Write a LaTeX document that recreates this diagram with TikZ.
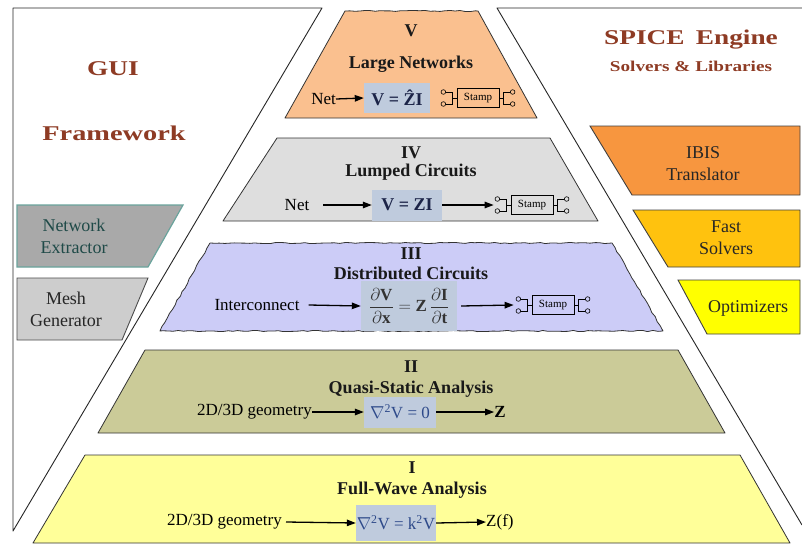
\documentclass[tikz,border=0pt]{standalone}
\usepackage{fontspec}
\usepackage{amsmath}
\usepackage{graphicx}
\setmainfont{Liberation Serif}
\usetikzlibrary{arrows.meta,decorations.pathmorphing,calc}

\definecolor{titlebrown}{HTML}{8E3B24}
\definecolor{lvV}{HTML}{FAC08F}
\definecolor{lvIV}{HTML}{DEDEDE}
\definecolor{lvIII}{HTML}{CCCCF7}
\definecolor{lvII}{HTML}{CBCB98}
\definecolor{lvI}{HTML}{FFFF99}
\definecolor{eqbox}{HTML}{BFCBDD}
\definecolor{eqdark}{HTML}{1C2448}
\definecolor{eqblue}{HTML}{2E4A8A}
\definecolor{netfill}{HTML}{A9A9A9}
\definecolor{netedge}{HTML}{6AA39C}
\definecolor{nettext}{HTML}{1F4A48}
\definecolor{meshfill}{HTML}{CDCDCD}
\definecolor{ibis}{HTML}{F7963F}
\definecolor{fast}{HTML}{FFC20E}
\definecolor{optim}{HTML}{FFFF00}

% leads and terminals on both sides of a stamp box
\newcommand\stampleads[1]{%
  \draw[lead] (#1.west) -- ++(-4,0);
  \draw[lead] ($(#1.west)+(-4,-6)$) -- ($(#1.west)+(-4,6)$);
  \draw[lead] ($(#1.west)+(-4,-6)$) -- ($(#1.west)+(-11,-6)$);
  \draw[lead] ($(#1.west)+(-4,6)$) -- ($(#1.west)+(-11,6)$);
  \draw[lead] ($(#1.west)+(-13.3,-6)$) circle[radius=2.3pt];
  \draw[lead] ($(#1.west)+(-13.3,6)$) circle[radius=2.3pt];
  \draw[lead] (#1.east) -- ++(4,0);
  \draw[lead] ($(#1.east)+(4,-6)$) -- ($(#1.east)+(4,6)$);
  \draw[lead] ($(#1.east)+(4,-6)$) -- ($(#1.east)+(11,-6)$);
  \draw[lead] ($(#1.east)+(4,6)$) -- ($(#1.east)+(11,6)$);
  \draw[lead] ($(#1.east)+(13.3,-6)$) circle[radius=2.3pt];
  \draw[lead] ($(#1.east)+(13.3,6)$) circle[radius=2.3pt];
}

\begin{document}
\pgfmathsetseed{7}
\begin{tikzpicture}[x=1pt,y=-1pt,
  frame/.style={draw=black!85, line width=0.9pt, line join=round},
  level/.style={draw=black!80, line width=0.8pt, line join=round},
  wobble/.style={decorate, decoration={random steps, segment length=5pt, amplitude=0.6pt}},
  lvtitle/.style={font=\fontsize{18}{20}\selectfont\bfseries, text=black!90, inner sep=0pt},
  rowtext/.style={font=\fontsize{17}{19}\selectfont, inner sep=0pt},
  eqstrong/.style={fill=eqbox, text=eqdark, font=\fontsize{18}{20}\selectfont\bfseries, inner sep=0pt},
  eqsoft/.style={fill=eqbox, text=eqblue, font=\fontsize{17}{19}\selectfont, inner sep=0pt},
  arr/.style={-{Triangle[length=9pt,width=6.5pt]}, line width=1.3pt},
  lead/.style={line width=0.6pt},
  stampbox/.style={draw, line width=0.7pt, font=\fontsize{11}{12}\selectfont, minimum width=42pt, minimum height=19pt, inner sep=1pt},
  boxtext/.style={font=\fontsize{18}{22}\selectfont, align=center, inner sep=0pt},
  maintitle/.style={font=\fontsize{21}{24}\selectfont\bfseries, text=titlebrown, inner sep=0pt},
  subtitle/.style={font=\fontsize{15}{17}\selectfont\bfseries, text=titlebrown, inner sep=0pt}
]
\useasboundingbox (0,0) rectangle (802,543);
\fill[white] (0,0) rectangle (802,543);

% outer panels
\draw[frame] (322,8) -- (13,8) -- (13,531) -- cycle;
\draw[frame] (802,8) -- (497,8) -- (802,525);

% side titles
\node[maintitle] (gui) at (113,69) {\scalebox{1.3}[1]{GUI}};
\node[maintitle] (fw) at (114,133) {\scalebox{1.35}[1]{Framework}};
\node[maintitle] (spice) at (691,40) {\scalebox{1.3}[1]{SPICE\, Engine}};
\node[subtitle] (libs) at (691,66) {\scalebox{1.28}[1]{Solvers \& Libraries}};

% left tool boxes
\filldraw[draw=netedge, line width=1.2pt, fill=netfill] (17,205) -- (183,205) -- (148,267) -- (17,267) -- cycle;
\node[boxtext, text=nettext] (netx) at (74,236) {Network\\Extractor};
\filldraw[draw=black!70, line width=0.9pt, fill=meshfill] (17,278) -- (148,278) -- (122,340) -- (17,340) -- cycle;
\node[boxtext, text=black!85] (mesh) at (66,309) {Mesh\\Generator};

% right tool boxes
\filldraw[draw=black!75, line width=0.9pt, fill=ibis] (590,126) -- (800,126) -- (800,195) -- (632,195) -- cycle;
\node[boxtext, text=black!85] (ibisx) at (703,164) {IBIS\\Translator};
\filldraw[draw=black!75, line width=0.9pt, fill=fast] (633,210) -- (800,210) -- (800,267) -- (668,267) -- cycle;
\node[boxtext, text=black!85] (fastx) at (726,238) {Fast\\Solvers};
\filldraw[draw=black!75, line width=0.9pt, fill=optim] (678,280) -- (800,280) -- (800,334) -- (707,334) -- cycle;
\node[boxtext, text=black!85] (optx) at (748,308) {Optimizers};

% level V
\filldraw[level, fill=lvV] (285,118) -- (345,11) decorate[wobble]{-- (478,11)} -- (537,118) -- cycle;
\node[lvtitle] (t5) at (411,31) {V};
\node[lvtitle] (n5) at (411,64) {Large Networks};
\node[eqstrong, minimum width=66pt, minimum height=30pt] (f5) at (397,98) {V = \^{Z}I};
\node[rowtext, anchor=east] (in5) at (336,99) {Net};
\node[stampbox] (s5) at (478,98) {Stamp};
\draw[arr] (in5.east) -- (f5.west);
\stampleads{s5}

% level IV
\filldraw[level, fill=lvIV] (223,221) -- (277,138) -- (550,138) -- (598,221) -- cycle;
\node[lvtitle] (t4) at (411,153) {IV};
\node[lvtitle] (n4) at (411,172) {Lumped Circuits};
\node[eqstrong, minimum width=70pt, minimum height=31pt] (f4) at (407,205) {V = ZI};
\node[rowtext] (in4) at (297,205) {Net};
\node[stampbox] (s4) at (532,205) {Stamp};
\draw[arr] ($(in4.east)+(14,0)$) -- (f4.west);
\draw[arr] (f4.east) -- ($(s4.west)+(-17,0)$);
\stampleads{s4}

% level III
\filldraw[level, fill=lvIII, wobble] (160,331) -- (210,243) -- (612,243) -- (663,331) -- cycle;
\node[lvtitle] (t3) at (411,254) {III};
\node[lvtitle] (n3) at (411,273.5) {Distributed Circuits};
\node[eqstrong, text=black!80, font=\fontsize{17}{19}\selectfont\bfseries, minimum width=96pt, minimum height=50pt] (f3) at (409,306)
  {$\dfrac{\partial\text{V}}{\partial\text{x}}=\text{Z}\,\dfrac{\partial\text{I}}{\partial\text{t}}$};
\node[rowtext] (in3) at (257,305) {Interconnect};
\node[stampbox] (s3) at (553,305) {Stamp};
\draw[arr] ($(in3.east)+(9,0)$) -- (f3.west);
\draw[arr] ($(f3.east)+(4,0)$) -- ($(s3.west)+(-18,0)$);
\stampleads{s3}

% level II
\filldraw[level, fill=lvII] (98,433) -- (145,350) -- (678,350) -- (725,433) -- cycle;
\node[lvtitle] (t2) at (411,367) {II};
\node[lvtitle] (n2) at (411,389) {Quasi-Static Analysis};
\node[eqsoft, minimum width=72pt, minimum height=31pt] (f2) at (400,412) {$\nabla$\textsuperscript{2}V = 0};
\node[rowtext, anchor=east] (in2) at (312,412) {2D/3D geometry};
\node[rowtext, font=\fontsize{17}{19}\selectfont\bfseries] (z2) at (500,412) {Z};
\draw[arr] (in2.east) -- (f2.west);
\draw[arr] (f2.east) -- (z2.west);

% level I
\filldraw[level, fill=lvI] (33,543) -- (85,455) -- (740,455) -- (790,543) -- cycle;
\node[lvtitle] (t1) at (412,468) {I};
\node[lvtitle] (n1) at (412,490) {Full-Wave Analysis};
\node[eqsoft, minimum width=80pt, minimum height=36pt] (f1) at (396,523) {$\nabla$\textsuperscript{2}V = k\textsuperscript{2}V};
\node[rowtext, anchor=east] (in1) at (282,522) {2D/3D geometry};
\node[rowtext, anchor=west] (z1) at (486,522) {Z(f)};
\draw[arr] ($(in1.east)+(4,0)$) -- (f1.west);
\draw[arr] (f1.east) -- (z1.west);
\end{tikzpicture}
\end{document}
